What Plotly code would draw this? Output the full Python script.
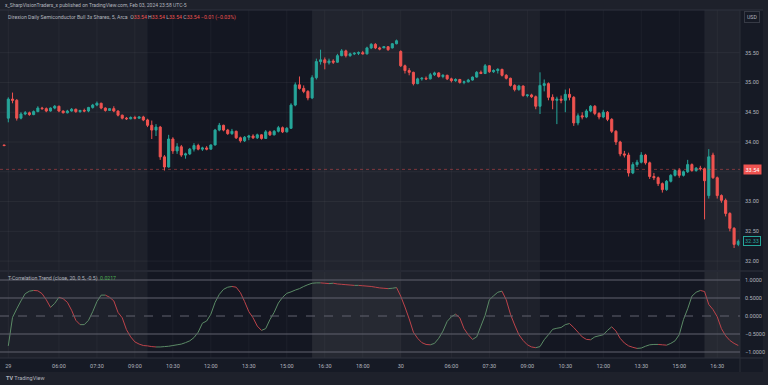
import plotly.graph_objects as go

# ---------------- DATA ----------------
opens = [33.95,
 34.40,34.72,34.70,34.40,34.47,34.49,34.46,34.51,34.57,34.56,34.52,34.57,34.60,34.52,34.49,34.52,34.55,34.51,34.53,34.52,
 34.58,34.62,34.65,34.57,34.53,34.56,34.52,34.45,34.40,34.39,34.41,34.40,34.42,34.37,34.28,34.20,34.25,33.75,33.58,34.05,
 33.85,33.92,33.78,33.80,33.88,33.94,33.88,33.90,33.88,33.95,34.20,34.28,34.20,34.14,34.18,34.07,34.02,34.08,34.10,34.07,
 34.12,34.06,34.17,34.12,34.18,34.24,34.17,34.23,34.62,34.96,34.90,34.85,34.74,35.08,35.35,35.38,35.33,35.36,35.34,35.45,
 35.53,35.45,35.48,35.49,35.50,35.48,35.58,35.64,35.58,35.58,35.60,35.58,35.65,
 35.52,35.28,35.20,35.17,34.98,35.06,35.07,35.06,35.13,35.16,35.10,35.12,35.06,35.03,35.05,35.00,35.01,35.04,35.09,35.17,
 35.15,35.28,35.18,35.20,35.22,35.12,35.07,34.95,34.88,34.94,34.78,34.79,34.76,34.60,34.95,34.98,34.75,34.70,34.72,34.70,
 34.80,34.75,34.32,34.44,34.42,34.52,34.60,34.48,34.42,34.50,34.38,34.18,34.00,33.80,33.78,33.48,33.62,33.66,33.78,33.65,
 33.42,33.40,33.30,33.20,33.34,33.44,33.52,33.44,33.50,33.62,33.52,33.56,33.55,33.10,33.78,33.40,33.10,33.02,32.80,32.55,
 32.28]
highs = [33.95,
 34.75,34.83,34.72,34.50,34.52,34.51,34.53,34.60,34.59,34.58,34.58,34.62,34.61,34.53,34.54,34.57,34.56,34.54,34.56,34.59,
 34.64,34.68,34.66,34.58,34.57,34.60,34.53,34.46,34.42,34.43,34.44,34.43,34.44,34.39,34.36,34.30,34.27,33.78,34.12,34.08,
 33.98,33.95,33.82,33.90,33.98,33.97,33.92,33.93,33.96,34.22,34.32,34.29,34.22,34.22,34.19,34.09,34.10,34.12,34.13,34.14,
 34.13,34.20,34.19,34.20,34.27,34.26,34.25,34.65,35.00,35.10,34.95,34.87,35.12,35.40,35.55,35.42,35.40,35.39,35.48,35.56,
 35.55,35.50,35.51,35.52,35.53,35.60,35.66,35.66,35.60,35.61,35.61,35.66,35.72,
 35.54,35.30,35.24,35.18,35.08,35.09,35.10,35.16,35.18,35.17,35.14,35.13,35.08,35.07,35.06,35.03,35.06,35.10,35.19,35.20,
 35.31,35.29,35.22,35.24,35.23,35.14,35.08,34.97,34.96,34.95,34.80,34.81,34.78,35.17,35.05,35.00,34.80,34.76,34.78,34.88,
 34.90,34.77,34.48,34.50,34.55,34.62,34.62,34.50,34.54,34.52,34.40,34.20,34.02,33.85,33.82,33.66,33.70,33.83,33.80,33.67,
 33.48,33.42,33.32,33.36,33.46,33.54,33.56,33.52,33.70,33.64,33.58,33.60,33.57,33.88,33.82,33.42,33.12,33.05,32.82,32.57,
 32.36]
lows = [33.93,
 34.33,34.65,34.36,34.38,34.45,34.44,34.45,34.50,34.54,34.50,34.51,34.55,34.50,34.48,34.48,34.51,34.49,34.49,34.50,34.50,
 34.56,34.60,34.55,34.51,34.52,34.50,34.43,34.38,34.37,34.38,34.38,34.39,34.35,34.25,34.05,34.10,33.70,33.52,33.57,33.80,
 33.80,33.75,33.72,33.78,33.84,33.86,33.85,33.86,33.87,33.94,34.18,34.18,34.12,34.12,34.05,33.99,34.00,34.03,34.05,34.05,
 34.04,34.05,34.10,34.11,34.16,34.15,34.16,34.22,34.60,34.88,34.82,34.70,34.72,35.05,35.30,35.22,35.30,35.31,35.33,35.44,
 35.42,35.43,35.46,35.46,35.47,35.47,35.56,35.56,35.54,35.58,35.53,35.57,35.64,
 35.26,35.15,35.12,34.95,34.97,35.03,35.04,35.05,35.11,35.08,35.07,35.04,35.00,35.01,34.98,34.97,35.00,35.03,35.08,35.14,
 35.14,35.16,35.16,35.15,35.10,35.05,34.93,34.85,34.86,34.76,34.75,34.74,34.55,34.47,34.85,34.70,34.55,34.30,34.65,34.50,
 34.70,34.27,34.28,34.38,34.40,34.50,34.45,34.38,34.40,34.35,34.15,33.95,33.76,33.74,33.42,33.46,33.58,33.64,33.62,33.38,
 33.36,33.26,33.15,33.18,33.32,33.42,33.40,33.42,33.48,33.50,33.50,33.52,32.70,33.05,33.38,33.05,32.98,32.75,32.50,32.22,
 32.25]
closes = [33.94,
 34.72,34.70,34.40,34.47,34.49,34.46,34.51,34.57,34.56,34.52,34.57,34.60,34.52,34.49,34.52,34.55,34.51,34.53,34.52,34.58,
 34.62,34.65,34.57,34.53,34.56,34.52,34.45,34.40,34.39,34.41,34.40,34.42,34.37,34.28,34.20,34.25,33.75,33.58,34.05,33.85,
 33.92,33.78,33.80,33.88,33.94,33.88,33.90,33.88,33.95,34.20,34.28,34.20,34.14,34.18,34.07,34.02,34.08,34.10,34.07,34.12,
 34.06,34.17,34.12,34.18,34.24,34.17,34.23,34.62,34.96,34.90,34.85,34.74,35.08,35.35,35.38,35.33,35.36,35.34,35.45,35.53,
 35.45,35.48,35.49,35.50,35.48,35.58,35.64,35.58,35.56,35.60,35.55,35.65,35.70,
 35.28,35.20,35.17,34.98,35.06,35.07,35.06,35.13,35.16,35.10,35.12,35.06,35.03,35.05,35.00,35.01,35.04,35.09,35.17,35.15,
 35.28,35.18,35.20,35.22,35.12,35.07,34.95,34.88,34.94,34.78,34.79,34.76,34.60,34.95,34.98,34.75,34.70,34.72,34.70,34.80,
 34.75,34.32,34.44,34.42,34.52,34.60,34.48,34.42,34.50,34.38,34.18,34.00,33.80,33.78,33.48,33.62,33.66,33.78,33.65,33.42,
 33.40,33.30,33.20,33.34,33.44,33.52,33.44,33.50,33.62,33.52,33.56,33.55,33.35,33.75,33.40,33.10,33.02,32.80,32.55,32.28,
 32.33]
osc = [None,
 -0.83,-0.04,0.20,0.42,0.62,0.69,0.71,0.70,0.62,0.45,0.24,0.35,0.52,0.48,0.38,0.16,-0.12,-0.24,-0.24,-0.12,
 0.12,0.40,0.58,0.58,0.52,0.42,0.10,-0.05,-0.38,-0.58,-0.72,-0.78,-0.82,-0.83,-0.85,-0.86,-0.86,-0.85,-0.84,-0.82,
 -0.80,-0.78,-0.74,-0.69,-0.60,-0.45,-0.20,-0.14,0.05,0.38,0.60,0.74,0.80,0.82,0.80,0.65,0.40,0.12,-0.05,-0.28,
 -0.40,-0.35,-0.10,0.10,0.36,0.52,0.63,0.67,0.72,0.76,0.82,0.87,0.91,0.92,0.92,0.91,0.90,0.91,0.89,0.88,
 0.87,0.86,0.85,0.85,0.84,0.83,0.82,0.80,0.78,0.77,0.76,0.77,0.79,
 0.55,0.25,-0.08,-0.45,-0.62,-0.74,-0.79,-0.80,-0.76,-0.62,-0.42,-0.15,-0.02,0.05,-0.05,-0.35,-0.52,-0.65,-0.58,-0.28,
 0.02,0.45,0.56,0.66,0.69,0.45,0.05,-0.25,-0.52,-0.68,-0.80,-0.86,-0.88,-0.85,-0.66,-0.52,-0.37,-0.34,-0.32,-0.24,
 -0.21,-0.32,-0.45,-0.58,-0.65,-0.66,-0.58,-0.55,-0.52,-0.40,-0.30,-0.42,-0.62,-0.75,-0.83,-0.87,-0.90,-0.89,-0.84,-0.80,
 -0.79,-0.79,-0.80,-0.81,-0.76,-0.69,-0.52,-0.10,0.20,0.55,0.66,0.71,0.68,0.32,0.18,-0.02,-0.35,-0.55,-0.68,-0.76,
 -0.82]

# bar timestamps (10-minute bars; prior day's last bar first)
day_bars = {"28": ["19:50"], "29": [], "30": []}
for d, n in (("29", 93), ("30", 81)):
    for k in range(n):
        m = 240 + 10 * k
        day_bars[d].append(f"{m // 60:02d}:{m % 60:02d}")
bar_keys = [f"{d} {t}" for d in ("28", "29", "30") for t in day_bars[d]]

tick_keys = ["29 04:00", "29 06:00", "29 07:30", "29 09:00", "29 10:30", "29 12:00", "29 13:30",
             "29 15:00", "29 16:30", "29 18:00", "30 04:00", "30 06:00", "30 07:30", "30 09:00",
             "30 10:30", "30 12:00", "30 13:30", "30 15:00", "30 16:30"]
tick_text = ["29", "06:00", "07:30", "09:00", "10:30", "12:00", "13:30", "15:00", "16:30", "18:00",
             "30", "06:00", "07:30", "09:00", "10:30", "12:00", "13:30", "15:00", "16:30"]
sessions = [("29 09:30", "29 16:00"), ("30 09:30", "30 16:00")]
post_sessions = [("29 16:00", "30 04:00"), ("30 16:00", None)]

price_ticks = [32.0, 32.5, 33.0, 33.5, 34.0, 34.5, 35.0, 35.5]
osc_levels = [1.0, 0.5, 0.0, -0.5, -1.0]
marked_price = 33.54
last_price = 32.33

# ---------------- FIGURE ----------------
W, H = 768, 385
UP, DN = "#26a69a", "#ef5350"
TXT = "#b2b5be"
FONT = "Roboto"
xs = list(range(len(bar_keys)))
pos = {k: i for i, k in enumerate(bar_keys)}


def py(px):  # pixel row -> paper fraction
    return 1 - px / H


def pxx(px):
    return px / W


fig = go.Figure()
fig.add_trace(go.Candlestick(
    x=xs, open=opens, high=highs, low=lows, close=closes,
    increasing=dict(line=dict(color=UP, width=1), fillcolor=UP),
    decreasing=dict(line=dict(color=DN, width=1), fillcolor=DN),
    hoverinfo="skip", xaxis="x", yaxis="y", showlegend=False))

gx, gy, rx, ry = [], [], [], []
for i in range(1, len(osc)):
    a, b = osc[i - 1], osc[i]
    if a is None or b is None:
        continue
    if b >= a:
        gx += [i - 1, i, None]; gy += [a, b, None]
    else:
        rx += [i - 1, i, None]; ry += [a, b, None]
fig.add_trace(go.Scatter(x=gx, y=gy, mode="lines", line=dict(color="#5b8a66", width=1),
                         xaxis="x2", yaxis="y2", hoverinfo="skip", showlegend=False))
fig.add_trace(go.Scatter(x=rx, y=ry, mode="lines", line=dict(color="#bd434a", width=1),
                         xaxis="x2", yaxis="y2", hoverinfo="skip", showlegend=False))

xr = [-0.97, 174.4]
ytop_main, ybot_main = 10, 270
ytop_osc, ybot_osc = 272, 358
XR = 740

shapes = []
# regular-session (darker) backgrounds
for s, e in sessions:
    for yref in ("y domain", "y2 domain"):
        shapes.append(dict(type="rect", xref="x", yref=yref, x0=pos[s], x1=pos[e], y0=0, y1=1,
                           fillcolor="#141722", line=dict(width=0), layer="below"))
# post-market (slightly lighter) backgrounds
for s, e in post_sessions:
    x1 = pos[e] if e else xr[1]
    shapes.append(dict(type="rect", xref="x", yref="y2 domain", x0=pos[s], x1=x1, y0=0, y1=1,
                       fillcolor="#262932", line=dict(width=0), layer="below"))
    shapes.append(dict(type="rect", xref="x", yref="y domain", x0=pos[s], x1=x1, y0=0, y1=1,
                       fillcolor="#21242e", line=dict(width=0), layer="below"))
# price / oscillator scale column and time axis strip
shapes.append(dict(type="rect", xref="paper", yref="paper", x0=pxx(XR), x1=pxx(763), y0=py(372), y1=py(ytop_main),
                   fillcolor="#161a25", line=dict(width=0), layer="below"))
shapes.append(dict(type="rect", xref="paper", yref="paper", x0=0, x1=pxx(763), y0=py(372), y1=py(ybot_osc),
                   fillcolor="#161a25", line=dict(width=0), layer="below"))
# separators
for yy in (ytop_main, 271, ybot_osc):
    shapes.append(dict(type="line", xref="paper", yref="paper", x0=0, x1=pxx(763), y0=py(yy), y1=py(yy),
                       line=dict(color="#2e323e", width=1)))
shapes.append(dict(type="line", xref="paper", yref="paper", x0=pxx(XR), x1=pxx(XR), y0=py(372), y1=py(ytop_main),
                   line=dict(color="#2a2e39", width=1)))
# price grid
for p in price_ticks:
    shapes.append(dict(type="line", xref="x domain", yref="y", x0=0, x1=1, y0=p, y1=p,
                       line=dict(color="rgba(255,255,255,0.05)", width=1), layer="below"))
# time grid
for k in tick_keys:
    for yref in ("y domain", "y2 domain"):
        shapes.append(dict(type="line", xref="x", yref=yref, x0=pos[k], x1=pos[k], y0=0, y1=1,
                           line=dict(color="rgba(255,255,255,0.04)", width=1), layer="below"))
# oscillator levels
for lv in osc_levels:
    shapes.append(dict(type="line", xref="x2 domain", yref="y2", x0=0, x1=1, y0=lv, y1=lv,
                       line=dict(color="#60636e", width=1, dash="dash" if lv == 0 else "solid")))
# marked price line
shapes.append(dict(type="line", xref="x domain", yref="y", x0=0, x1=1, y0=marked_price, y1=marked_price,
                   line=dict(color="rgba(239,83,80,0.45)", width=1, dash="dot")))

red = f"<span style='color:{DN}'>"
legend_txt = (f"Direxion Daily Semiconductor Bull 3x Shares, 5, Arca  "
              f"O{red}33.54</span> H{red}33.54</span> L{red}33.54</span> C{red}33.54</span> "
              f"{red}−0.01 (−0.03%)</span>")
annotations = [
    dict(xref="paper", yref="paper", x=pxx(3), y=py(5), xanchor="left", yanchor="middle", showarrow=False,
         text="x_SharpVisionTraders_x published on TradingView.com, Feb 03, 2024 23:58 UTC-5",
         font=dict(family=FONT, size=5, color=TXT)),
    dict(xref="paper", yref="paper", x=pxx(6), y=py(17), xanchor="left", yanchor="middle", showarrow=False,
         text=legend_txt, font=dict(family=FONT, size=5.2, color=TXT)),
    dict(xref="paper", yref="paper", x=pxx(6), y=py(278), xanchor="left", yanchor="middle", showarrow=False,
         text="T-Correlation Trend (close, 20, 0.5, -0.5)  <span style='color:#4caf50'>0.0217</span>",
         font=dict(family=FONT, size=5.2, color=TXT)),
    dict(xref="paper", yref="paper", x=pxx(4), y=py(378), xanchor="left", yanchor="middle", showarrow=False,
         text="<b>TV</b> TradingView", font=dict(family=FONT, size=5.5, color=TXT)),
    dict(xref="paper", yref="paper", x=pxx(752), y=py(17), xanchor="center", yanchor="middle", showarrow=False,
         text="USD", font=dict(family=FONT, size=5.2, color=TXT), bordercolor="#363a45", borderwidth=1,
         borderpad=2, bgcolor="#161a25"),
    dict(xref="paper", yref="y", x=pxx(XR + 3), y=marked_price, xanchor="left", yanchor="middle", showarrow=False,
         text=f"{marked_price:.2f}", font=dict(family=FONT, size=5.5, color="#ffffff"), bgcolor=DN,
         borderpad=1.5),
    dict(xref="paper", yref="y", x=pxx(XR + 3), y=last_price, xanchor="left", yanchor="middle", showarrow=False,
         text=f"{last_price:.2f}", font=dict(family=FONT, size=5.5, color=UP), bgcolor="#131722",
         bordercolor=UP, borderwidth=1, borderpad=1),
]

label_ticks = [p for p in price_ticks if abs(p - marked_price) > 0.1]

fig.update_layout(
    width=W, height=H, margin=dict(l=0, r=0, t=0, b=0),
    paper_bgcolor="#1e212b", plot_bgcolor="rgba(0,0,0,0)",
    font=dict(family=FONT, color=TXT, size=5.5),
    showlegend=False, hovermode=False, dragmode=False,
    xaxis=dict(domain=[0, pxx(XR)], range=xr, anchor="y", showticklabels=False, showgrid=False,
               zeroline=False, rangeslider=dict(visible=False), fixedrange=True),
    xaxis2=dict(domain=[0, pxx(XR)], range=xr, anchor="y2", matches="x", showgrid=False, zeroline=False,
                tickmode="array", tickvals=[pos[k] for k in tick_keys], ticktext=tick_text,
                tickfont=dict(family=FONT, size=5.5, color=TXT), ticks="", ticklabelstandoff=3),
    yaxis=dict(domain=[py(ybot_main), py(ytop_main)], range=[31.85, 36.2167], side="right", anchor="x",
               tickmode="array", tickvals=label_ticks, tickformat=".2f", showgrid=False, zeroline=False,
               tickfont=dict(family=FONT, size=5.5, color=TXT), ticks="", ticklabelstandoff=4),
    yaxis2=dict(domain=[py(ybot_osc), py(ytop_osc)], range=[-1.1667, 1.2222], side="right", anchor="x2",
                tickmode="array", tickvals=osc_levels, tickformat=".4f", showgrid=False, zeroline=False,
                tickfont=dict(family=FONT, size=5.5, color=TXT), ticks="", ticklabelstandoff=4),
    shapes=shapes, annotations=annotations,
)

fig.write_html("out.html", config={"displayModeBar": False},
               post_script="document.body.style.margin='0';document.body.style.overflow='hidden';")
